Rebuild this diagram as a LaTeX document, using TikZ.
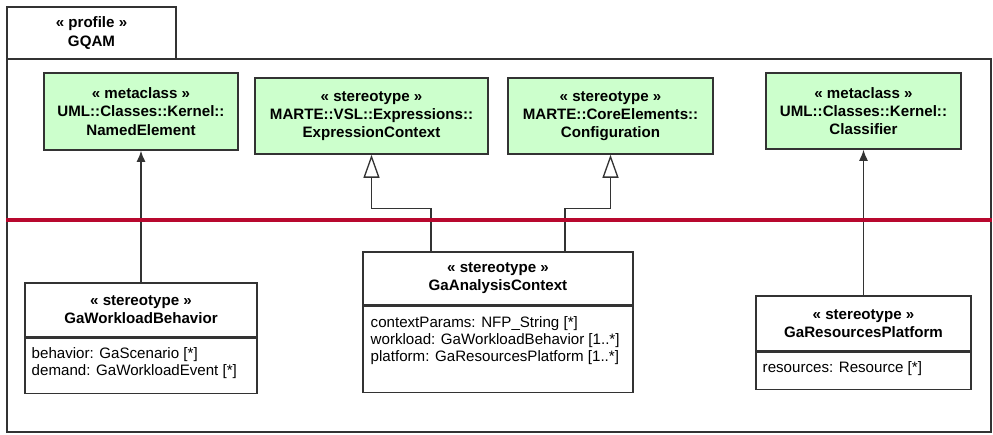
\documentclass[tikz,border=0pt]{standalone}
\usepackage{fontspec}
\setmainfont{Liberation Sans}
\usetikzlibrary{arrows.meta,positioning}
\definecolor{metagreen}{HTML}{CCFFCC}
\definecolor{profred}{HTML}{B8082E}
\definecolor{umlline}{HTML}{333333}
\tikzset{
  profileframe/.style={draw=umlline, line width=0.8pt, inner sep=0pt},
  profiletab/.style={draw=umlline, line width=0.8pt, fill=white, align=center, inner sep=0pt,
    font=\bfseries\fontsize{8.6}{10.4}\selectfont},
  metabox/.style={draw=umlline, line width=0.9pt, fill=metagreen, align=center, inner sep=0pt,
    font=\bfseries\fontsize{8.6}{10.4}\selectfont},
  headbox/.style={draw=umlline, line width=0.75pt, fill=white, align=center, inner sep=0pt,
    font=\bfseries\fontsize{8.6}{10.4}\selectfont},
  attrbox/.style={draw=umlline, line width=0.75pt, fill=white, inner sep=0pt},
  attrtext/.style={align=left, inner sep=0pt, anchor=north west, font=\fontsize{8.6}{9.6}\selectfont},
  extends/.style={draw=umlline, line width=0.75pt, -{Latex[length=0.22cm,width=0.18cm]}},
  generalizes/.style={draw=umlline, line width=0.75pt, -{Triangle[open,length=0.46cm,width=0.32cm,fill=white]}},
}
\begin{document}
\begin{tikzpicture}[x=0.02cm, y=-0.02cm]
        \useasboundingbox (0,0) rectangle (993,435);

        % Profile frame and tab
        \node[profileframe, minimum width=19.68cm, minimum height=7.46cm] (frame) at (499,245.5) {};
        \node[profiletab, minimum width=3.38cm, minimum height=1.04cm] (gqam) at (91.5,33) {« profile »\\GQAM};

        % Imported metaclasses and stereotypes
        \node[metabox, minimum width=3.88cm, minimum height=1.54cm] (namedel) at (141,111.5)
            {« metaclass »\\UML::Classes::Kernel::\\NamedElement};
        \node[metabox, minimum width=4.66cm, minimum height=1.52cm] (exprctx) at (371.5,116)
            {« stereotype »\\MARTE::VSL::Expressions::\\ExpressionContext};
        \node[metabox, minimum width=4.1cm, minimum height=1.52cm] (config) at (610.5,116)
            {« stereotype »\\MARTE::CoreElements::\\Configuration};
        \node[metabox, minimum width=3.9cm, minimum height=1.52cm] (classifier) at (863.5,111)
            {« metaclass »\\UML::Classes::Kernel::\\Classifier};

        % GQAM stereotypes
        \node[headbox, minimum width=4.64cm, minimum height=1.08cm] (wlb) at (141,310)
            {« stereotype »\\GaWorkloadBehavior};
        \node[attrbox, minimum width=4.64cm, minimum height=1.1cm, below=0pt of wlb] (wlbattr) {};
        \node[attrtext] (wlbtext) at ([shift={(7,10)}]wlbattr.north west)
            {behavior: GaScenario [*]\\demand: GaWorkloadEvent [*]};

        \node[headbox, minimum width=5.4cm, minimum height=1.06cm] (ctx) at (498,278.5)
            {« stereotype »\\GaAnalysisContext};
        \node[attrbox, minimum width=5.4cm, minimum height=1.72cm, below=0pt of ctx] (ctxattr) {};
        \node[attrtext] (ctxtext) at ([shift={(8,11)}]ctxattr.north west)
            {contextParams: NFP\_String [*]\\workload: GaWorkloadBehavior [1..*]\\platform: GaResourcesPlatform [1..*]};

        \node[headbox, minimum width=4.3cm, minimum height=1.1cm] (resplat) at (863.5,323.5)
            {« stereotype »\\GaResourcesPlatform};
        \node[attrbox, minimum width=4.3cm, minimum height=0.74cm, below=0pt of resplat] (resattr) {};
        \node[attrtext] (restext) at ([shift={(7,10)}]resattr.north west)
            {resources: Resource [*]};

        % Extensions and generalizations
        \draw[extends] (wlb) -- (namedel);
        \draw[extends] (resplat) -- (classifier);
        \draw[generalizes] ([xshift=-1.34cm]ctx.north) -- ++(0,-43) -| (exprctx.south);
        \draw[generalizes] ([xshift=1.34cm]ctx.north) -- ++(0,-43) -| (config.south);

        % Separator
        \draw[profred, line width=0.08cm] (frame.west |- 0,220) -- (frame.east |- 0,220);
    \end{tikzpicture}
\end{document}
